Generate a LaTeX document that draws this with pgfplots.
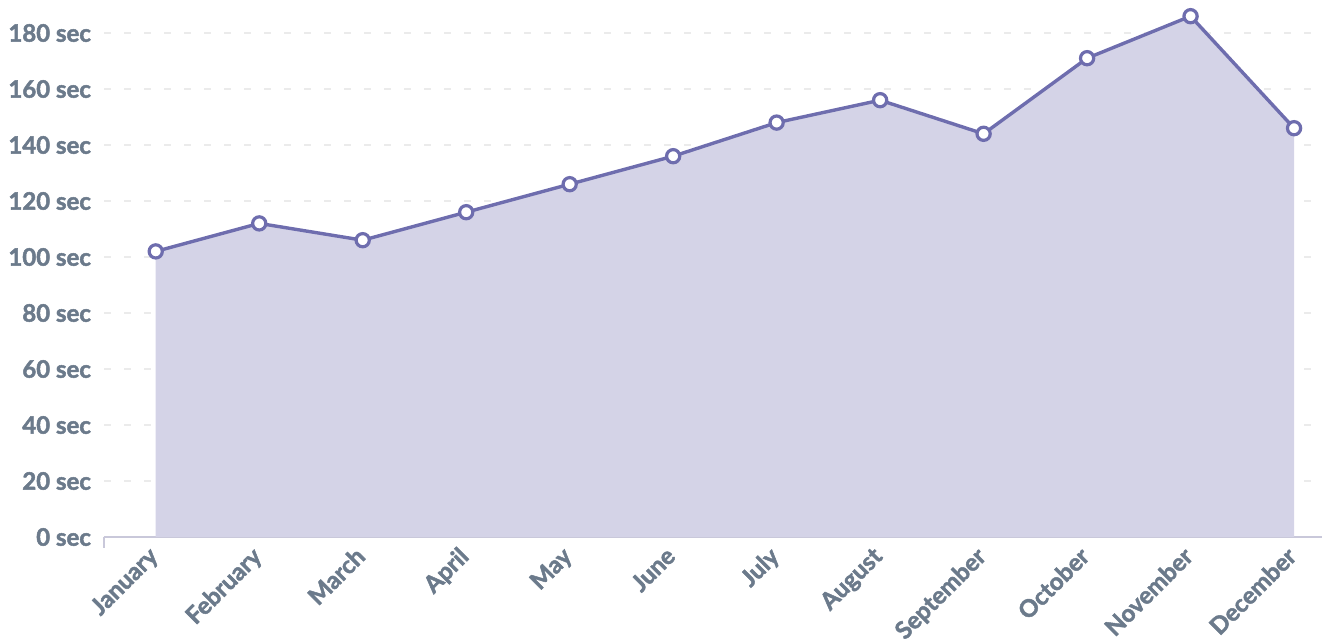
\documentclass[border=0pt]{standalone}
\usepackage{fontspec}
\setmainfont{Lato}[BoldFeatures={FakeBold=2}]
\usepackage{pgfplots}
\pgfplotsset{compat=1.18}
\definecolor{linec}{HTML}{6E6DAE}
\definecolor{fillc}{HTML}{D4D3E7}
\definecolor{textc}{HTML}{6B7A8B}
\definecolor{gridc}{HTML}{EBEBEB}
\definecolor{axisc}{HTML}{C9C8DA}
\begin{document}
\begin{tikzpicture}
\begin{axis}[
  name=ax,
  scale only axis,
  width=609pt, height=266pt,
  xmin=-0.5, xmax=11.27,
  ymin=0, ymax=190,
  axis x line*=bottom,
  axis y line*=left,
  y axis line style={draw=none},
  x axis line style={draw=axisc, line width=1pt},
  xtick={0,1,2,3,4,5,6,7,8,9,10,11},
  xticklabels={January,February,March,April,May,June,July,August,September,October,November,December},
  ytick={0,20,40,60,80,100,120,140,160,180},
  yticklabels={0 sec,20 sec,40 sec,60 sec,80 sec,100 sec,120 sec,140 sec,160 sec,180 sec},
  major tick length=0pt,
  tick style={draw=none},
  extra x ticks={-0.5},
  extra x tick labels={},
  extra x tick style={tick style={draw=axisc, line width=1pt}, major tick length=5.5pt, tick align=outside, grid=none},
  ticklabel style={font=\bfseries\fontsize{12}{14}\selectfont, text=textc},
  yticklabel style={anchor=east, xshift=-3pt},
  xticklabel style={rotate=45, anchor=north east, yshift=3.6pt, xshift=-2.6pt},
  ymajorgrids,
  grid style={draw=gridc, line width=1pt, dash pattern=on 3.5pt off 6.5pt},
  clip=false,
]
\addplot[fill=fillc, draw=none, forget plot] coordinates {
(0,102) (1,112) (2,106) (3,116) (4,126) (5,136) (6,148) (7,156) (8,144) (9,171) (10,186) (11,146)
} \closedcycle;
\addplot[draw=linec, line width=1.7pt, mark=*, mark size=3.3pt, mark options={fill=white, draw=linec, line width=1.6pt}] coordinates {
(0,102) (1,112) (2,106) (3,116) (4,126) (5,136) (6,148) (7,156) (8,144) (9,171) (10,186) (11,146)
};
\end{axis}
\pgfresetboundingbox
\path ([shift={(-52pt,-52pt)}]ax.south west) rectangle ([shift={(0.5pt,2.5pt)}]ax.north east);
\end{tikzpicture}
\end{document}
